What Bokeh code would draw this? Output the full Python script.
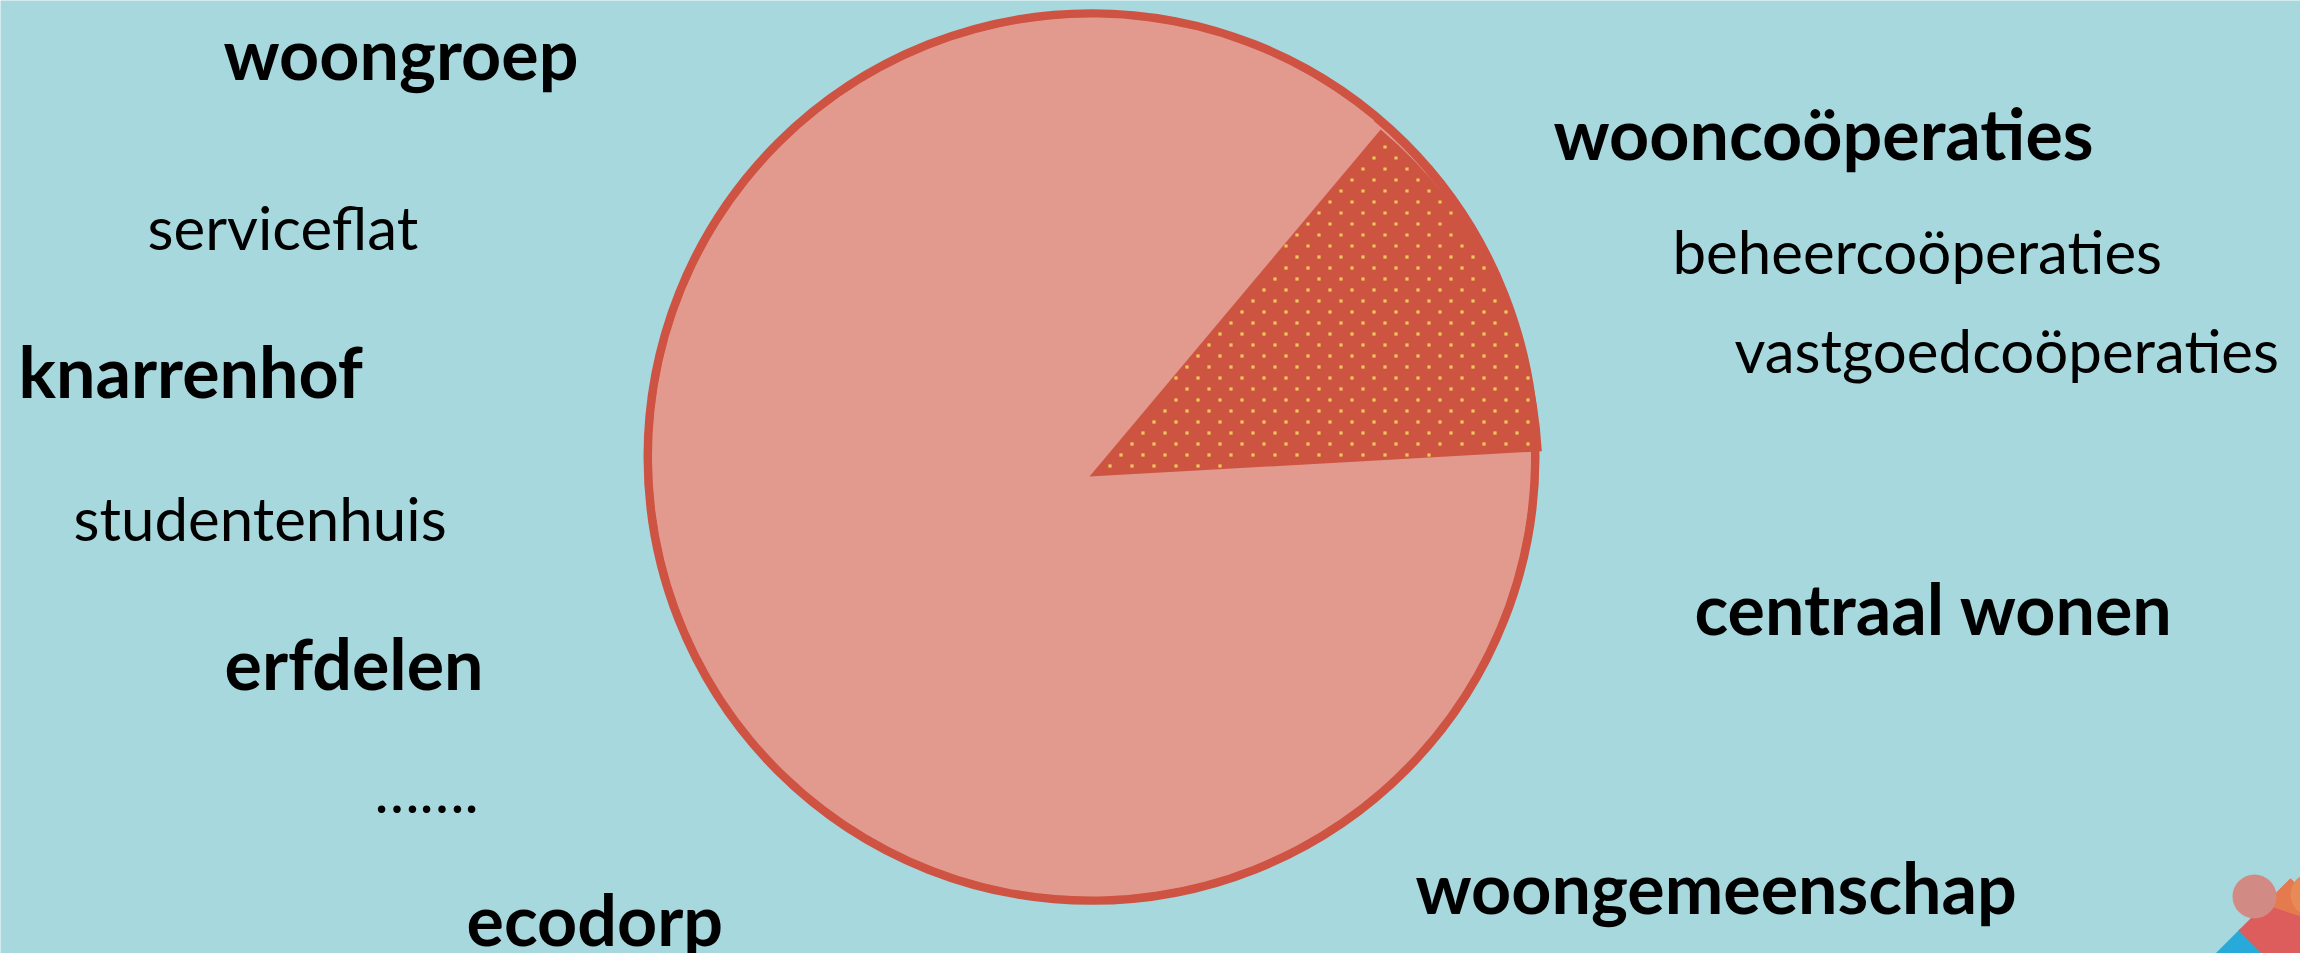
from bokeh.plotting import figure
from bokeh.models import ColumnDataSource, Range1d
from bokeh.core.properties import value
from bokeh.embed import file_html
from bokeh.resources import INLINE
import math

# ---------------- data ----------------
segments = ["uitgelicht", "overig"]
shares = [13, 87]

labels = ["woongroep", "serviceflat", "knarrenhof", "studentenhuis", "erfdelen",
          "\u2026\u2026.", "ecodorp", "woonco\u00f6peraties", "beheerco\u00f6peraties",
          "vastgoedco\u00f6peraties", "centraal wonen", "woongemeenschap"]
label_bold = [True, False, True, False, True, False, True, True, False, False, True, True]

# ---------------- layout / style ----------------
REF_W, REF_H = 2300, 953
label_left = [223, 147, 18, 73, 224, 374, 466, 1553, 1672, 1734, 1694, 1415]
label_base = [52, 226, 370, 517, 662, 789, 918, 132, 250, 349, 607, 886]

BG = "#A6D8DD"
PINK = "#E29A8E"
STROKE = "#CE5342"
SLICE = "#CC5441"
DOT = "#EEC85A"
FONT = "Lato"
BOLD_SIZE = "70px"
REG_SIZE = "60px"

p = figure(width=REF_W, height=REF_H, x_range=Range1d(0, REF_W), y_range=Range1d(0, REF_H),
           output_backend="svg", toolbar_location=None, min_border=0,
           x_axis_location=None, y_axis_location=None)
p.grid.visible = False
p.outline_line_color = None
p.background_fill_color = BG
p.border_fill_color = BG

# pie geometry
cx, cy = 1091, REF_H - 456.5
r_stroke = 443.5
start0 = math.radians(3.2)
total = sum(shares)
starts, ends = [], []
acc = start0
for s in shares:
    starts.append(acc)
    acc += s / total * 2 * math.pi
    ends.append(acc)

# base disc
p.circle(x=[cx], y=[cy], radius=r_stroke, fill_color=PINK, line_color=STROKE, line_width=9)

# remaining segment
p.wedge(x=[cx], y=[cy], radius=r_stroke - 4, start_angle=[starts[1]], end_angle=[ends[1]],
        fill_color=PINK, line_color=None)

# highlighted segment
ax, ay = 1089, REF_H - 476
R = 453
p.wedge(x=[ax], y=[ay], radius=R, start_angle=[starts[0]], end_angle=[ends[0]],
        fill_color=SLICE, line_color=None)

# dotted texture of the highlighted segment (staggered grid clipped to the wedge)
dx_step, dy_step = 22.0, 11.0
gx0, gy0 = 1373.5, REF_H - 135.5
dot_x, dot_y = [], []
for row in range(-50, 50):
    yy = gy0 + row * dy_step
    xoff = gx0 + (row % 2) * (dx_step / 2)
    for col in range(-40, 40):
        xx = xoff + col * dx_step
        ddx, ddy = xx - ax, yy - ay
        rr = math.hypot(ddx, ddy)
        if rr < 6 or rr > R - 3:
            continue
        a = math.atan2(ddy, ddx)
        marg = 2.0 / rr
        if starts[0] + marg < a < ends[0] - marg:
            dot_x.append(xx)
            dot_y.append(yy)
p.scatter(x=dot_x, y=dot_y, marker="square", size=3.2, fill_color=DOT, line_color=None)

# labels
src = ColumnDataSource(dict(
    x=label_left,
    y=[REF_H - b for b in label_base],
    text=labels,
    style=["bold" if b else "normal" for b in label_bold],
    size=[BOLD_SIZE if b else REG_SIZE for b in label_bold],
))
p.text(x="x", y="y", text="text", source=src, text_font=value(FONT),
       text_font_style="style", text_font_size="size", text_color="#000000",
       text_align="left", text_baseline="alphabetic")

# corner logo (decoration)
p.patch(x=[2213, 2240, 2267], y=[REF_H - 955, REF_H - 928, REF_H - 955], fill_color="#27A9DA", line_color=None)
p.patch(x=[2238, 2290, 2342, 2290], y=[REF_H - 930, REF_H - 878, REF_H - 930, REF_H - 982],
        fill_color="#DD5C5C", line_color=None)
p.patch(x=[2264, 2290, 2342], y=[REF_H - 904, REF_H - 878, REF_H - 930], fill_color="#E47A4E", line_color=None)
p.circle(x=[2254], y=[REF_H - 896], radius=22, fill_color="#D28A85", line_color=None)
p.circle(x=[2312], y=[REF_H - 894], radius=22, fill_color="#E78A55", line_color=None)

open("out.html", "w").write(file_html(p, INLINE))
